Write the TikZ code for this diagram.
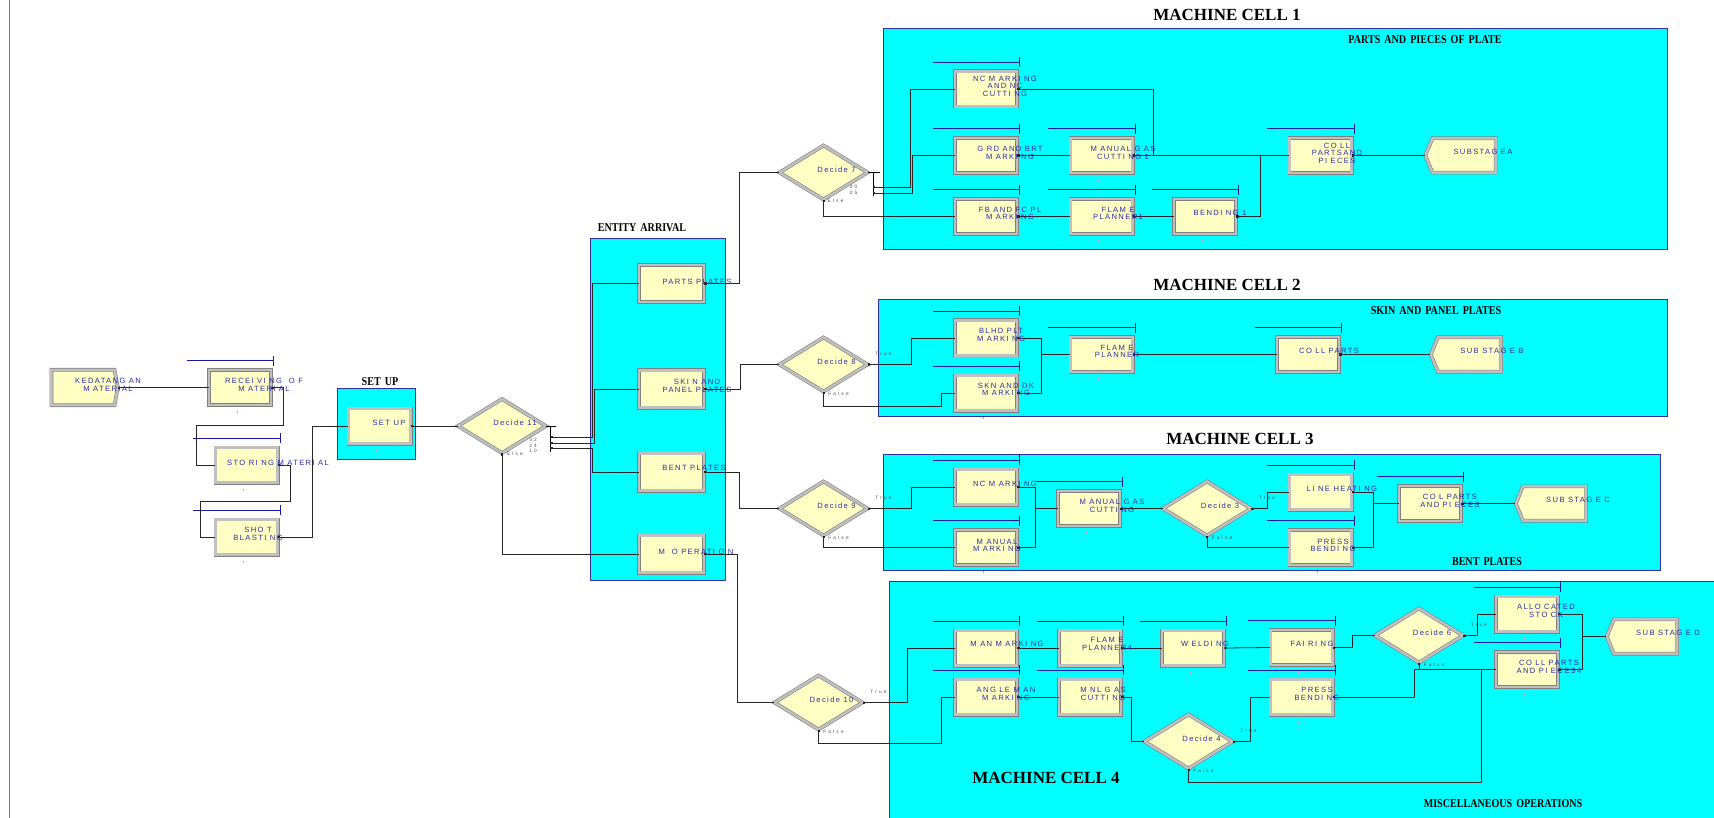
\documentclass[tikz,border=0pt]{standalone}
\usepackage{fontspec}
\setmainfont{Liberation Serif}
\newfontfamily\blockfont{Liberation Sans}[LetterSpace=18]
\newfontfamily\tinyfont{Liberation Sans}[LetterSpace=45]
\newfontfamily\condfont{Liberation Serif}[FakeStretch=0.84, WordSpace=1.6]
\usetikzlibrary{shapes.geometric, shapes.misc, shapes.symbols, arrows.meta}
\definecolor{arenayellow}{HTML}{FFFFC4}
\definecolor{arenacyan}{HTML}{00FFFF}
\definecolor{bevelgray}{HTML}{C0C0C0}
\definecolor{edgegray}{HTML}{808080}
\definecolor{labelnavy}{HTML}{2B2BA6}
\definecolor{queuenavy}{HTML}{1A1AA8}
\definecolor{areablue}{HTML}{2E2EA0}
\definecolor{countpink}{HTML}{D0A0A0}
\tikzstyle{conn}=[{Square[length=2pt,width=2pt]}-, line width=0.8pt, color=black!85]

\begin{document}
\begin{tikzpicture}[x=1pt, y=-1pt,
  bevel/.style={draw=edgegray, line width=0.6pt, double=bevelgray,
                double distance=2.5pt, fill=arenayellow, inner sep=0pt},
  procbox/.style={bevel, rectangle, minimum width=62.3pt, minimum height=35.3pt},
  stationbox/.style={bevel, chamfered rectangle, chamfered rectangle xsep=5pt,
                     chamfered rectangle ysep=5pt, minimum width=65.3pt, minimum height=37.3pt},
  createbox/.style={bevel, signal, signal to=east, signal pointer angle=160,
                    minimum width=66.3pt, minimum height=35.3pt},
  disposebox/.style={bevel, signal, signal to=west, signal pointer angle=135,
                     minimum width=70.3pt, minimum height=34.3pt},
  decidebox/.style={bevel, diamond, minimum width=88.3pt, minimum height=54.3pt},
  cellarea/.style={fill=arenacyan, draw=areablue, line width=0.9pt},
  blocktext/.style={font=\blockfont\fontsize{7.6}{7.5}\selectfont, text=labelnavy,
                    align=center, inner sep=0pt},
  decidetext/.style={blocktext},
  tflabel/.style={font=\tinyfont\fontsize{4.8}{5.8}\selectfont, text=black!70,
                  align=center, inner sep=0pt},
  celltitle/.style={font=\bfseries\fontsize{17}{19}\selectfont, inner sep=0pt},
  areatitle/.style={font=\condfont\bfseries\fontsize{12}{14}\selectfont, inner sep=0pt},
  queueline/.style={draw=queuenavy, line width=0.8pt}
]
\useasboundingbox (0,0) rectangle (1714,818);
\draw[areablue!70, line width=0.8pt] (9,0) -- (9,818);

\draw[cellarea] (337,388) rectangle (415,459);
\draw[cellarea] (590,238) rectangle (725,580);
\draw[cellarea] (883,28) rectangle (1667,249);
\draw[cellarea] (878,299) rectangle (1667,416);
\draw[cellarea] (883,454) rectangle (1660,570);
\fill[arenacyan] (889,581) rectangle (1714,818);
\draw[areablue, line width=0.9pt] (889,818) |- (1714,581);

\node[celltitle] (mc1-t) at (1227,15) {MACHINE CELL 1};
\node[celltitle] (mc2-t) at (1227,285) {MACHINE CELL 2};
\node[celltitle] (mc3-t) at (1240,439) {MACHINE CELL 3};
\node[celltitle] (mc4-t) at (1046,778) {MACHINE CELL 4};
\node[areatitle] (setup-a) at (380,382) {SET UP};
\node[areatitle] (entity-a) at (642,228) {ENTITY ARRIVAL};
\node[areatitle] (cell1-a) at (1425,40) {PARTS AND PIECES OF PLATE};
\node[areatitle] (cell2-a) at (1436,311) {SKIN AND PANEL PLATES};
\node[areatitle] (cell3-a) at (1487,562) {BENT PLATES};
\node[areatitle] (cell4-a) at (1503,804) {MISCELLANEOUS OPERATIONS};

\node[createbox] (kedat) at (83,387.5) {};
\node[procbox] (recv) at (240,387.5) {};
\node[procbox] (stor) at (246.5,465) {};
\node[procbox] (shot) at (246.5,537) {};
\node[procbox] (setup) at (379.5,426) {};
\node[decidebox] (d11) at (502,426) {};

\node[stationbox] (parts) at (671.5,283.5) {};
\node[stationbox] (skin) at (671.5,389) {};
\node[stationbox] (bent) at (671.5,472) {};
\node[stationbox] (misc) at (671.5,554) {};

\node[decidebox] (d7) at (823.5,172.5) {};
\node[procbox] (nc1) at (986,89) {};
\node[procbox] (grd) at (986,155.5) {};
\node[procbox] (mgc1) at (1101.5,155.5) {};
\node[procbox] (fb) at (986,216.5) {};
\node[procbox] (fp1) at (1101.5,216.5) {};
\node[procbox] (bend1) at (1205,216.5) {};
\node[procbox] (coll1) at (1320.5,155.5) {};
\node[disposebox] (suba) at (1464,155.5) {};

\node[decidebox] (d8) at (823.5,364.5) {};
\node[procbox] (blhd) at (986,338) {};
\node[procbox] (skn) at (986,393) {};
\node[procbox] (fp2) at (1101.5,354.5) {};
\node[procbox] (coll2) at (1308,354.5) {};
\node[disposebox] (subb) at (1469.5,354.5) {};

\node[decidebox] (d9) at (823.5,508.5) {};
\node[procbox] (nc3) at (986,487) {};
\node[procbox] (man3) at (986,547.5) {};
\node[procbox] (mgc3) at (1089,508.5) {};
\node[decidebox] (d3) at (1207,508.5) {};
\node[procbox] (lh) at (1320.5,492) {};
\node[procbox] (pb3) at (1320.5,547.5) {};
\node[procbox] (coll3) at (1430,503.5) {};
\node[disposebox] (subc) at (1554.5,503.5) {};

\node[decidebox] (d10) at (818.5,702.5) {};
\node[procbox] (mam) at (986,648) {};
\node[procbox] (angm) at (986,697) {};
\node[procbox] (fp4) at (1090,648) {};
\node[procbox] (weld) at (1193,648) {};
\node[procbox] (mnl) at (1090,697) {};
\node[decidebox] (d4) at (1188.5,741.5) {};
\node[procbox] (fair) at (1301.5,647.5) {};
\node[procbox] (pb4) at (1301.5,697) {};
\node[decidebox] (d6) at (1419,635.5) {};
\node[procbox] (alloc) at (1527,614) {};
\node[procbox] (coll4) at (1527,669.5) {};
\node[disposebox] (subd) at (1645.5,636.5) {};

\foreach \n in {recv,stor,shot,nc1,grd,mgc1,fb,fp1,bend1,coll1,blhd,skn,fp2,coll2,
                nc3,man3,mgc3,lh,pb3,coll3,mam,angm,fp4,weld,mnl,fair,pb4,alloc,coll4}
  \draw[queueline] ([shift={(-22,-9)}]\n.north west) -- ([shift={(2,-9)}]\n.north east)
        ++(0,-5) -- ++(0,10);
\foreach \n in {recv,stor,shot,setup,nc1,grd,mgc1,fb,fp1,bend1,coll1,blhd,skn,fp2,coll2,
                nc3,man3,mgc3,lh,pb3,coll3,mam,angm,fp4,weld,mnl,fair,pb4,alloc,coll4}
  \draw[countpink, line width=0.6pt] ([shift={(-3,6)}]\n.south) -- ++(0,2);

% connectors
\draw[conn] (kedat.east) -- (recv.west);
\draw[conn] (recv.east) -- ++(12,0) |- (196,425) |- (stor.west);
\draw[conn] (stor.east) -- ++(12,0) |- (200,501) |- (shot.west);
\draw[conn] (shot.east) -| (312,426) -- (setup.west);
\draw[conn] (setup.east) -- (d11.west);

\draw[line width=0.8pt] (d11.east) -- ++(10,0) ([xshift=4]d11.east) -- ++(0,26);
\coordinate (d11a) at ([shift={(4,11)}]d11.east);
\coordinate (d11b) at ([shift={(4,17)}]d11.east);
\coordinate (d11c) at ([shift={(4,22)}]d11.east);
\draw[conn] (d11a) -- ++(42,0) |- (parts.west);
\draw[conn] (d11b) -- ++(44,0) |- (skin.west);
\draw[conn] (d11c) -- ++(42,0) |- (bent.west);
\draw[conn] (d11.south) |- (misc.west);

\draw[conn] (parts.east) -- ++(35,0) |- (d7.west);
\draw[conn] (skin.east) -- ++(36,0) |- (d8.west);
\draw[conn] (bent.east) -- ++(35,0) |- (d9.west);
\draw[conn] (misc.east) -- ++(33,0) |- (d10.west);

\draw[line width=0.8pt] (d7.east) -- ++(12,0) ([xshift=5]d7.east) -- ++(0,24);
\coordinate (d7a) at ([shift={(5,14.5)}]d7.east);
\coordinate (d7b) at ([shift={(5,20.5)}]d7.east);
\draw[conn] (d7a) -- ++(37,0) |- (nc1.west);
\draw[conn] (d7b) -- ++(39,0) |- (grd.west);
\draw[conn] (d7.south) |- (fb.west);
\draw[conn] (nc1.east) -| (1153,155.5) -- (coll1.west);
\draw[conn] (grd.east) -- (mgc1.west);
\draw[conn] (mgc1.east) -- (coll1.west);
\draw[conn] (fb.east) -- (fp1.west);
\draw[conn] (fp1.east) -- (bend1.west);
\draw[conn] (bend1.east) -- ++(24,0) |- (coll1.west);
\draw[conn] (coll1.east) -- (suba.west);

\draw[conn] (d8.east) -- ++(43,0) |- (blhd.west);
\draw[conn] (d8.south) |- (941,406) |- (skn.west);
\draw[conn] (blhd.east) -- ++(24,0) |- (fp2.west);
\draw[conn] (skn.east) -- ++(24,0) |- (fp2.west);
\draw[conn] (fp2.east) -- (coll2.west);
\draw[conn] (coll2.east) -- (subb.west);

\draw[conn] (d9.east) -- ++(43,0) |- (nc3.west);
\draw[conn] (d9.south) |- (man3.west);
\draw[conn] (nc3.east) -- ++(18,0) |- (mgc3.west);
\draw[conn] (man3.east) -- ++(18,0) |- (mgc3.west);
\draw[conn] (mgc3.east) -- (d3.west);
\draw[conn] (d3.east) -- ++(16,0) |- (lh.west);
\draw[conn] (d3.south) |- (pb3.west);
\draw[conn] (lh.east) -- ++(21,0) |- (coll3.west);
\draw[conn] (pb3.east) -- ++(21,0) |- (coll3.west);
\draw[conn] (coll3.east) -- (subc.west);

\draw[conn] (d10.east) -- ++(44,0) |- (mam.west);
\draw[conn] (d10.south) |- (941,743) |- (angm.west);
\draw[conn] (mam.east) -- (fp4.west);
\draw[conn] (fp4.east) -- (weld.west);
\draw[conn] (weld.east) -- (fair.west);
\draw[conn] (angm.east) -- (mnl.west);
\draw[conn] (mnl.east) -- ++(10,0) |- (d4.west);
\draw[conn] (d4.east) -- ++(17,0) |- (pb4.west);
\draw[conn] (d4.south) |- (1481,782) |- (coll4.west);
\draw[conn] (fair.east) -- ++(19,0) |- (d6.west);
\draw[conn] (d6.east) -- ++(14,0) |- (alloc.west);
\draw[conn] (d6.south) |- (coll4.west);
\draw[conn] (pb4.east) -| (1414,669.5) -- (coll4.west);
\draw[conn] (alloc.east) -- ++(24,0) |- (subd.west);
\draw[conn] (coll4.east) -- ++(24,0) |- (subd.west);

% block texts
\node[blocktext] (kedat-t) at (108,385) {KEDATANG AN\\M ATERIAL};
\node[blocktext] (recv-t) at (264,385) {RECEI VI NG\ \ O F\\M ATERI AL};
\node[blocktext] (stor-t) at (278,463) {STO RI NG M ATERI AL};
\node[blocktext] (shot-t) at (258,534) {SHO T\\BLASTI NG};
\node[blocktext] (setup-t) at (389,423) {SET UP};
\node[blocktext] (parts-t) at (697,282) {PARTS PLATES};
\node[blocktext] (skin-t) at (697,386) {SKI N AND\\PANEL PLATES};
\node[blocktext] (bent-t) at (694,468) {BENT PLATES};
\node[blocktext] (misc-t) at (696,552) {M\ \ O PERATI O N};
\node[blocktext] (nc1-t) at (1005,86) {NC M ARKI NG\\AND NC\\CUTTI NG};
\node[blocktext] (grd-t) at (1010,153) {G RD AND BRT\\M ARKI NG};
\node[blocktext] (mgc1-t) at (1123,153) {M ANUAL G AS\\CUTTI NG 1};
\node[blocktext] (fb-t) at (1010,213.5) {FB AND FC PL\\M ARKI NG};
\node[blocktext] (fp1-t) at (1118,213.5) {FLAM E\\PLANNER1};
\node[blocktext] (bend1-t) at (1220,213) {BENDI NG 1};
\node[blocktext] (coll1-t) at (1337,153) {CO LL\\PARTSAND\\PI ECES};
\node[blocktext] (suba-t) at (1483,152) {SUBSTAG EA};
\node[blocktext] (blhd-t) at (1001,335) {BLHD PLT\\M ARKI NG};
\node[blocktext] (skn-t) at (1006,389.5) {SKN AND DK\\M ARKI NG};
\node[blocktext] (fp2-t) at (1117,351.5) {FLAM E\\PLANNER};
\node[blocktext] (coll2-t) at (1329,351) {CO LL PARTS};
\node[blocktext] (subb-t) at (1492,351) {SUB STAG E B};
\node[blocktext] (nc3-t) at (1005,484) {NC M ARKI NG};
\node[blocktext] (man3-t) at (997,545.5) {M ANUAL\\M ARKI NG};
\node[blocktext] (mgc3-t) at (1112,506) {M ANUAL G AS\\CUTTI NG};
\node[blocktext] (lh-t) at (1342,489) {LI NE HEATI NG};
\node[blocktext] (pb3-t) at (1333,545.5) {PRESS\\BENDI NG};
\node[blocktext] (coll3-t) at (1450,501) {CO L PARTS\\AND PI ECES};
\node[blocktext] (subc-t) at (1578,500) {SUB STAG E C};
\node[blocktext] (mam-t) at (1007,644) {M AN M ARKI NG};
\node[blocktext] (angm-t) at (1006,694) {ANG LE M AN\\M ARKI NG};
\node[blocktext] (fp4-t) at (1107,644) {FLAM E\\PLANNER4};
\node[blocktext] (weld-t) at (1205,644) {W ELDI NG};
\node[blocktext] (mnl-t) at (1103,694) {M NL G AS\\CUTTI NG};
\node[blocktext] (fair-t) at (1312,644) {FAI RI NG};
\node[blocktext] (pb4-t) at (1317,694) {PRESS\\BENDI NG};
\node[blocktext] (alloc-t) at (1546,611) {ALLO CATED\\STO CK};
\node[blocktext] (coll4-t) at (1549,667) {CO LL PARTS\\AND PI ECES4};
\node[blocktext] (subd-t) at (1668,633) {SUB STAG E D};

\foreach \d/\k in {d11/11,d7/7,d8/8,d9/9,d3/3,d10/10,d4/4,d6/6}
  \node[decidetext] (\d-t) at ([shift={(13,-3)}]\d.center) {Decide \k};
\foreach \d in {d8,d9,d3,d10,d4,d6} {
  \node[tflabel] (\d-true) at ([shift={(60,-11)}]\d.center) {True};
  \node[tflabel] (\d-false) at ([shift={(15,29)}]\d.center) {False};
}
\node[tflabel] (d7-else) at ([shift={(12,28)}]d7.center) {Else};
\node[tflabel] (d11-else) at ([shift={(13,28)}]d11.center) {Else};
\node[tflabel] (d7-pct) at ([shift={(30,17)}]d7.center) {30\\25};
\node[tflabel] (d11-pct) at ([shift={(31,19.5)}]d11.center) {32\\24\\10};
\end{tikzpicture}
\end{document}
